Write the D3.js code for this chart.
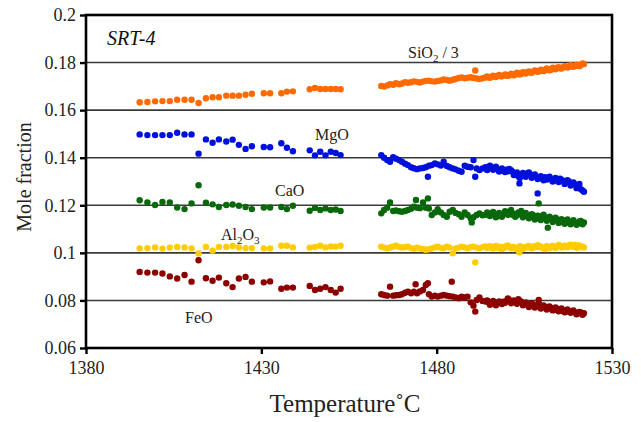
<!DOCTYPE html>
<html>
<head>
<meta charset="utf-8">
<script src="https://cdn.jsdelivr.net/npm/d3@7"></script>
<style>
  body { margin: 0; background: #fff; }
  svg { display: block; font-family: "Liberation Serif", "DejaVu Serif", serif; }
  svg text { font-family: "Liberation Serif", "DejaVu Serif", serif; }
</style>
</head>
<body>
<svg id="chart" width="641" height="422"></svg>
<script>
// temperatures (deg C): first run, second run, and the extra readings late in the second run
const tempsLow = [1395.3, 1397.5, 1399.7, 1401.8, 1403.9, 1406.0, 1408.1, 1410.1, 1412.1, 1414.2,
  1416.1, 1417.9, 1420.0, 1421.8, 1423.6, 1425.5, 1427.3, 1430.7, 1432.5, 1435.7,
  1437.3, 1439.0, 1443.8, 1445.3, 1446.8, 1448.3, 1449.8, 1451.2, 1452.6];
const tempsHigh = [1464.2, 1465.0, 1465.9, 1466.7, 1467.6, 1468.4, 1469.3, 1470.1, 1471.0, 1471.8,
  1472.7, 1473.5, 1474.4, 1475.2, 1476.1, 1476.9, 1477.8, 1478.6, 1479.5, 1480.3,
  1481.2, 1482.0, 1482.9, 1483.7, 1484.6, 1485.4, 1486.3, 1487.1, 1488.0, 1488.8,
  1489.7, 1490.5, 1491.4, 1492.2, 1493.1, 1493.9, 1494.8, 1495.6, 1496.5, 1497.3,
  1498.2, 1499.0, 1499.9, 1500.7, 1501.6, 1502.4, 1503.3, 1504.1, 1505.0, 1505.8,
  1506.7, 1507.5, 1508.4, 1509.2, 1510.1, 1510.9, 1511.8, 1512.6, 1513.5, 1514.3,
  1515.2, 1516.0, 1516.9, 1517.7, 1518.6, 1519.4, 1520.3, 1521.1, 1522.0];
const tempsLate = [1494.4, 1495.2, 1496.1, 1496.9, 1497.8, 1498.6, 1499.5, 1500.3, 1501.2, 1502.0,
  1502.9, 1503.7, 1504.6, 1505.4, 1506.3, 1507.1, 1508.0, 1508.8, 1509.7, 1510.5,
  1511.4, 1512.2, 1513.1, 1513.9, 1514.8, 1515.6, 1516.5, 1517.3, 1518.2, 1519.0,
  1519.9, 1520.7, 1521.6];

// SiO2 / 3
const sioLow = [0.1633, 0.1634, 0.1637, 0.1638, 0.1638, 0.1644, 0.1644, 0.1644, 0.1630, 0.1650,
  0.1654, 0.1654, 0.1661, 0.1661, 0.1661, 0.1665, 0.1669, 0.1671, 0.1671, 0.1671,
  0.1678, 0.1679, 0.1688, 0.1693, 0.1689, 0.1689, 0.1689, 0.1689, 0.1688];
const sioHigh = [0.1702, 0.1699, 0.1704, 0.1709, 0.1707, 0.1713, 0.1709, 0.1712, 0.1718, 0.1715,
  0.1717, 0.1721, 0.1719, 0.1716, 0.1720, 0.1723, 0.1724, 0.1721, 0.1720, 0.1723,
  0.1725, 0.1729, 0.1727, 0.1724, 0.1728, 0.1731, 0.1735, 0.1737, 0.1734, 0.1736,
  0.1738, 0.1735, 0.1733, 0.1731, 0.1734, 0.1737, 0.1738, 0.1741, 0.1740, 0.1744,
  0.1743, 0.1745, 0.1748, 0.1747, 0.1751, 0.1750, 0.1755, 0.1753, 0.1757, 0.1760,
  0.1758, 0.1762, 0.1765, 0.1763, 0.1767, 0.1769, 0.1772, 0.1770, 0.1775, 0.1778,
  0.1776, 0.1780, 0.1783, 0.1781, 0.1785, 0.1787, 0.1786, 0.1790, 0.1794];
const sioLate = [0.1742, 0.1736, 0.1745, 0.1739, 0.1748, 0.1742, 0.1750, 0.1744, 0.1753, 0.1747,
  0.1757, 0.1750, 0.1760, 0.1754, 0.1763, 0.1757, 0.1767, 0.1761, 0.1770, 0.1764,
  0.1775, 0.1768, 0.1778, 0.1772, 0.1781, 0.1775, 0.1785, 0.1779, 0.1789, 0.1782,
  0.1791, 0.1785, 0.1796];
const sioExtra = [[1491.0, 0.1767]];

// MgO
const mgoLow = [0.1498, 0.1495, 0.1495, 0.1495, 0.1495, 0.1505, 0.1498, 0.1498, 0.1417, 0.1477,
  0.1463, 0.1477, 0.1468, 0.1476, 0.1454, 0.1437, 0.1448, 0.1445, 0.1444, 0.1461,
  0.1442, 0.1427, 0.1431, 0.1410, 0.1425, 0.1410, 0.1425, 0.1420, 0.1411];
const mgoHigh = [0.1411, 0.1400, 0.1390, 0.1383, 0.1402, 0.1396, 0.1390, 0.1383, 0.1375, 0.1369,
  0.1360, 0.1356, 0.1352, 0.1355, 0.1357, 0.1360, 0.1366, 0.1369, 0.1376, 0.1372,
  0.1367, 0.1383, 0.1365, 0.1360, 0.1355, 0.1351, 0.1345, 0.1341, 0.1366, 0.1362,
  0.1360, 0.1390, 0.1355, 0.1348, 0.1355, 0.1360, 0.1362, 0.1359, 0.1355, 0.1351,
  0.1347, 0.1345, 0.1350, 0.1353, 0.1341, 0.1334, 0.1322, 0.1330, 0.1327, 0.1334,
  0.1330, 0.1324, 0.1320, 0.1315, 0.1313, 0.1318, 0.1315, 0.1308, 0.1310, 0.1304,
  0.1312, 0.1303, 0.1298, 0.1300, 0.1292, 0.1288, 0.1280, 0.1268, 0.1257];
const mgoLate = [0.1348, 0.1366, 0.1349, 0.1362, 0.1342, 0.1355, 0.1340, 0.1343, 0.1348, 0.1327,
  0.1338, 0.1315, 0.1336, 0.1320, 0.1338, 0.1316, 0.1330, 0.1310, 0.1322, 0.1305,
  0.1308, 0.1320, 0.1300, 0.1315, 0.1298, 0.1306, 0.1290, 0.1305, 0.1283, 0.1296,
  0.1272, 0.1290, 0.1262];
const mgoExtra = [[1477.5, 0.1320], [1491.0, 0.1320], [1503.6, 0.1292], [1508.8, 0.1250]];

// CaO
const caoLow = [0.1221, 0.1212, 0.1201, 0.1214, 0.1212, 0.1191, 0.1184, 0.1208, 0.1284, 0.1211,
  0.1204, 0.1193, 0.1201, 0.1203, 0.1198, 0.1193, 0.1184, 0.1191, 0.1191, 0.1193,
  0.1184, 0.1198, 0.1177, 0.1189, 0.1180, 0.1187, 0.1180, 0.1182, 0.1176];
const caoHigh = [0.1166, 0.1180, 0.1190, 0.1212, 0.1176, 0.1178, 0.1175, 0.1173, 0.1176, 0.1180,
  0.1185, 0.1194, 0.1190, 0.1188, 0.1212, 0.1190, 0.1186, 0.1159, 0.1170, 0.1184,
  0.1170, 0.1159, 0.1152, 0.1173, 0.1180, 0.1168, 0.1162, 0.1152, 0.1170, 0.1159,
  0.1145, 0.1150, 0.1159, 0.1166, 0.1158, 0.1160, 0.1163, 0.1166, 0.1162, 0.1155,
  0.1160, 0.1164, 0.1168, 0.1173, 0.1160, 0.1152, 0.1170, 0.1176, 0.1162, 0.1155,
  0.1150, 0.1158, 0.1145, 0.1150, 0.1155, 0.1148, 0.1142, 0.1145, 0.1138, 0.1140,
  0.1134, 0.1131, 0.1136, 0.1128, 0.1131, 0.1126, 0.1124, 0.1134, 0.1128];
const caoLate = [0.1170, 0.1155, 0.1172, 0.1150, 0.1168, 0.1152, 0.1175, 0.1160, 0.1180, 0.1165,
  0.1158, 0.1166, 0.1150, 0.1168, 0.1145, 0.1162, 0.1140, 0.1156, 0.1138, 0.1160,
  0.1135, 0.1152, 0.1130, 0.1148, 0.1126, 0.1142, 0.1122, 0.1140, 0.1120, 0.1137,
  0.1118, 0.1132, 0.1120];
const caoExtra = [[1474.1, 0.1222], [1477.5, 0.1229], [1509.1, 0.1208], [1511.7, 0.1106], [1490.0, 0.1128]];

// Al2O3
const alLow = [0.1019, 0.1020, 0.1023, 0.1018, 0.1022, 0.1025, 0.1023, 0.1019, 0.0997, 0.1025,
  0.1009, 0.1025, 0.1025, 0.1029, 0.1023, 0.1020, 0.1020, 0.1019, 0.1019, 0.1030,
  0.1030, 0.1023, 0.1022, 0.1025, 0.1030, 0.1023, 0.1027, 0.1026, 0.1030];
const alHigh = [0.1026, 0.1022, 0.1019, 0.1023, 0.1027, 0.1030, 0.1025, 0.1022, 0.1024, 0.1026,
  0.1020, 0.1018, 0.1022, 0.1019, 0.1016, 0.1013, 0.1015, 0.1019, 0.1023, 0.1026,
  0.1021, 0.1019, 0.1026, 0.1022, 0.0998, 0.1019, 0.1022, 0.1026, 0.1023, 0.1019,
  0.1024, 0.1026, 0.1022, 0.1020, 0.1024, 0.1027, 0.1025, 0.1022, 0.1026, 0.1022,
  0.1019, 0.1025, 0.1029, 0.1026, 0.1022, 0.1018, 0.1012, 0.1020, 0.1024, 0.1026,
  0.1022, 0.1027, 0.1029, 0.1025, 0.1021, 0.1016, 0.1022, 0.1026, 0.1023, 0.1026,
  0.1029, 0.1025, 0.1028, 0.1031, 0.1027, 0.1033, 0.1030, 0.1024, 0.1023];
const alLate = [0.1020, 0.1028, 0.1018, 0.1029, 0.1026, 0.1016, 0.1022, 0.1031, 0.1019, 0.1025,
  0.1021, 0.1028, 0.1017, 0.1022, 0.1029, 0.1019, 0.1024, 0.1032, 0.1027, 0.1019,
  0.1028, 0.1020, 0.1030, 0.1021, 0.1033, 0.1022, 0.1030, 0.1024, 0.1034, 0.1026,
  0.1021, 0.1031, 0.1026];
const alExtra = [[1491.0, 0.0960], [1503.6, 0.1002]];

// FeO
const feoLow = [0.0920, 0.0917, 0.0917, 0.0913, 0.0901, 0.0892, 0.0907, 0.0879, 0.0969, 0.0893,
  0.0883, 0.0896, 0.0872, 0.0856, 0.0892, 0.0899, 0.0879, 0.0876, 0.0880, 0.0849,
  0.0854, 0.0854, 0.0861, 0.0844, 0.0849, 0.0856, 0.0844, 0.0833, 0.0849];
const feoHigh = [0.0826, 0.0823, 0.0820, 0.0858, 0.0820, 0.0822, 0.0823, 0.0826, 0.0832, 0.0837,
  0.0830, 0.0837, 0.0830, 0.0838, 0.0844, 0.0865, 0.0826, 0.0816, 0.0820, 0.0816,
  0.0820, 0.0823, 0.0820, 0.0818, 0.0816, 0.0812, 0.0809, 0.0816, 0.0812, 0.0816,
  0.0792, 0.0778, 0.0802, 0.0812, 0.0798, 0.0795, 0.0792, 0.0788, 0.0791, 0.0788,
  0.0792, 0.0795, 0.0798, 0.0802, 0.0796, 0.0792, 0.0805, 0.0795, 0.0788, 0.0783,
  0.0778, 0.0782, 0.0776, 0.0785, 0.0774, 0.0770, 0.0773, 0.0767, 0.0764, 0.0760,
  0.0763, 0.0756, 0.0758, 0.0753, 0.0755, 0.0750, 0.0746, 0.0749, 0.0746];
const feoLate = [0.0800, 0.0782, 0.0798, 0.0780, 0.0796, 0.0785, 0.0790, 0.0808, 0.0788, 0.0800,
  0.0786, 0.0798, 0.0780, 0.0792, 0.0772, 0.0788, 0.0770, 0.0782, 0.0766, 0.0779,
  0.0762, 0.0775, 0.0758, 0.0770, 0.0754, 0.0766, 0.0750, 0.0762, 0.0748, 0.0758,
  0.0742, 0.0752, 0.0740];
const feoExtra = [[1474.0, 0.0868], [1477.5, 0.0872], [1484.3, 0.0879], [1491.0, 0.0753], [1509.1, 0.0802]];

const xTicks = [1380, 1430, 1480, 1530];
const yTicks = [0.06, 0.08, 0.1, 0.12, 0.14, 0.16, 0.18, 0.2];

const series = [
  { low: sioLow, high: sioHigh, late: sioLate, extra: sioExtra, color: "#ff6a00" },
  { low: mgoLow, high: mgoHigh, late: mgoLate, extra: mgoExtra, color: "#0010dc" },
  { low: caoLow, high: caoHigh, late: caoLate, extra: caoExtra, color: "#08680a" },
  { low: alLow, high: alHigh, late: alLate, extra: alExtra, color: "#ffcc00" },
  { low: feoLow, high: feoHigh, late: feoLate, extra: feoExtra, color: "#8c0000" }
];

const width = 641, height = 422;
const margin = { top: 15, right: 29, bottom: 74, left: 86 };
const serif = "'Liberation Serif', 'DejaVu Serif', serif";

const svg = d3.select("#chart");

const x = d3.scaleLinear()
  .domain([1380, 1530])
  .range([margin.left, width - margin.right]);
const y = d3.scaleLinear()
  .domain([0.06, 0.2])
  .range([height - margin.bottom, margin.top]);

// grid lines
svg.append("g")
  .selectAll("line")
  .data(yTicks.filter(d => d > 0.07 && d < 0.19))
  .join("line")
  .attr("x1", x(1380)).attr("x2", x(1530))
  .attr("y1", d => y(d)).attr("y2", d => y(d))
  .attr("stroke", "#3a3a3a")
  .attr("stroke-width", 1.6);

// points
const plot = svg.append("g");
series.forEach(s => {
  const pts = tempsLow.map((t, i) => [t, s.low[i]])
    .concat(tempsHigh.map((t, i) => [t, s.high[i]]))
    .concat(tempsLate.map((t, i) => [t, s.late[i]]))
    .concat(s.extra);
  plot.append("g")
    .attr("fill", s.color)
    .selectAll("circle")
    .data(pts)
    .join("circle")
    .attr("cx", d => x(d[0]))
    .attr("cy", d => y(d[1]))
    .attr("r", 3.2);
});

// frame
svg.append("rect")
  .attr("x", x(1380)).attr("y", y(0.2))
  .attr("width", x(1530) - x(1380))
  .attr("height", y(0.06) - y(0.2))
  .attr("fill", "none")
  .attr("stroke", "#000")
  .attr("stroke-width", 2.6);

const xAxis = g => g
  .attr("transform", `translate(0,${y(0.06)})`)
  .call(d3.axisBottom(x).tickValues(xTicks).tickSize(6).tickPadding(7).tickFormat(d3.format("d")))
  .attr("font-family", null)
  .call(g => g.select(".domain").remove())
  .call(g => g.selectAll("line").attr("stroke", "#000").attr("stroke-width", 2.4))
  .call(g => g.selectAll("text").attr("font-size", 18).attr("fill", "#222")
    .style("font-family", serif));

const yAxis = g => g
  .attr("transform", `translate(${x(1380)},0)`)
  .call(d3.axisLeft(y).tickValues(yTicks).tickSize(6).tickPadding(4).tickFormat(d => String(+d.toFixed(2))))
  .attr("font-family", null)
  .call(g => g.select(".domain").remove())
  .call(g => g.selectAll("line").attr("stroke", "#000").attr("stroke-width", 2.4))
  .call(g => g.selectAll("text").attr("font-size", 18).attr("fill", "#222")
    .style("font-family", serif));

svg.append("g").call(xAxis);
svg.append("g").call(yAxis);

// axis titles
svg.append("text")
  .attr("x", 345).attr("y", 412)
  .attr("text-anchor", "middle")
  .attr("font-size", 25)
  .attr("fill", "#222")
  .text("Temperature˚C");

svg.append("text")
  .attr("transform", "translate(31,177) rotate(-90)")
  .attr("text-anchor", "middle")
  .attr("font-size", 20)
  .attr("fill", "#222")
  .text("Mole fraction");

// in-plot labels
svg.append("text")
  .attr("x", 107).attr("y", 45)
  .attr("font-size", 20)
  .attr("font-style", "italic")
  .attr("fill", "#111")
  .text("SRT-4");

const labels = [
  { x: 408, y: 58, parts: [["SiO", 0], ["2", 1], [" / 3", 0]] },
  { x: 315, y: 140, parts: [["MgO", 0]] },
  { x: 275, y: 196, parts: [["CaO", 0]] },
  { x: 221, y: 240, parts: [["Al", 0], ["2", 1], ["O", 0], ["3", 1]] },
  { x: 185, y: 323, parts: [["FeO", 0]] }
];
labels.forEach(l => {
  const t = svg.append("text")
    .attr("x", l.x).attr("y", l.y)
    .attr("font-size", 16)
    .attr("fill", "#222");
  let shift = 0;
  l.parts.forEach(p => {
    const target = p[1] ? 4 : 0;
    t.append("tspan")
      .attr("font-size", p[1] ? 11 : 16)
      .attr("dy", target - shift)
      .text(p[0]);
    shift = target;
  });
});
</script>
</body>
</html>
